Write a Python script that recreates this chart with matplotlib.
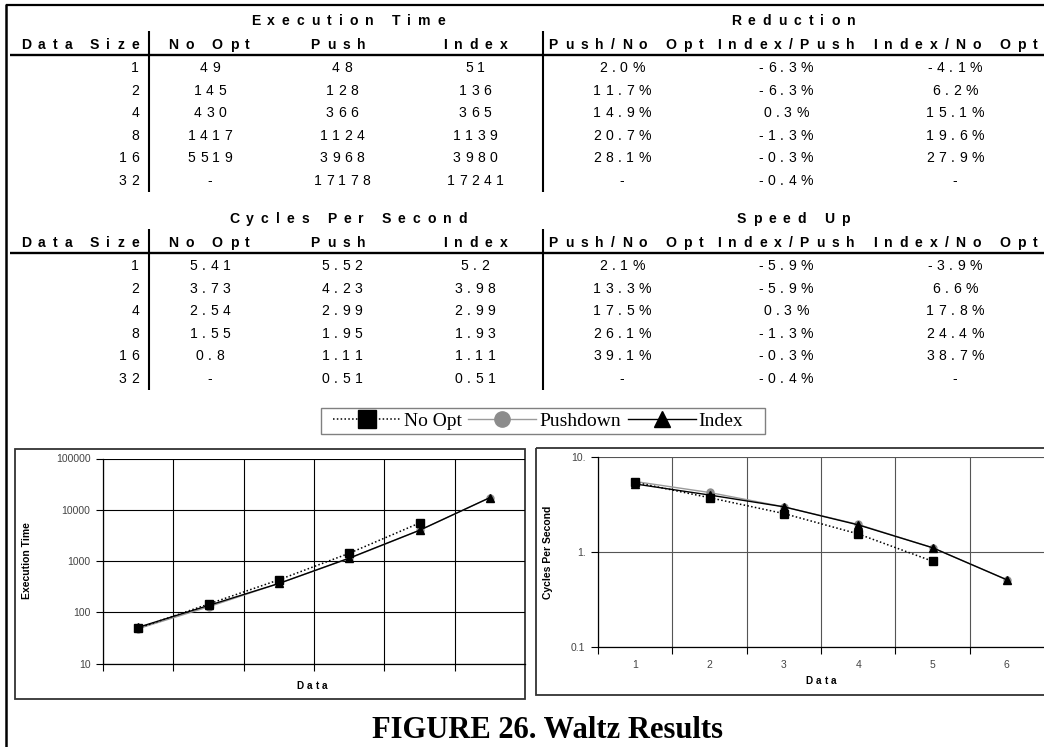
import numpy as np
import matplotlib

matplotlib.use("Agg")

import matplotlib.pyplot as plt
from matplotlib.font_manager import FontProperties, findfont
from matplotlib.ft2font import FT2Font
from matplotlib.patches import Rectangle
from matplotlib.ticker import NullLocator

W, H, DPI = 1044, 747, 100

# ---- data ----
data_sizes = ["1", "2", "4", "8", "16", "32"]
chart_x = [1, 2, 3, 4, 5, 6]

exec_no_opt = [49, 145, 430, 1417, 5519, np.nan]
exec_push = [48, 128, 366, 1124, 3968, 17178]
exec_index = [51, 136, 365, 1139, 3980, 17241]

red_push_noopt = ["2.0%", "11.7%", "14.9%", "20.7%", "28.1%", "-"]
red_index_push = ["-6.3%", "-6.3%", "0.3%", "-1.3%", "-0.3%", "-0.4%"]
red_index_noopt = ["-4.1%", "6.2%", "15.1%", "19.6%", "27.9%", "-"]

cps_no_opt = [5.41, 3.73, 2.54, 1.55, 0.8, np.nan]
cps_push = [5.52, 4.23, 2.99, 1.95, 1.11, 0.51]
cps_index = [5.2, 3.98, 2.99, 1.93, 1.11, 0.51]

spd_push_noopt = ["2.1%", "13.3%", "17.5%", "26.1%", "39.1%", "-"]
spd_index_push = ["-5.9%", "-5.9%", "0.3%", "-1.3%", "-0.3%", "-0.4%"]
spd_index_noopt = ["-3.9%", "6.6%", "17.8%", "24.4%", "38.7%", "-"]

exec_ticks = [10, 100, 1000, 10000, 100000]
exec_tick_labels = ["10", "100", "1000", "10000", "100000"]
cps_ticks = [0.1, 1, 10]
cps_tick_labels = ["0.1", "1.", "10."]
cps_x_labels = ["1", "2", "3", "4", "5", "6"]

SANS = "Liberation Sans"
SERIF = "Liberation Serif"

_font_cache = {}


def glyph_advances(s, size_px, bold):
    if bold not in _font_cache:
        fp = FontProperties(family=SANS, weight="bold" if bold else "normal")
        _font_cache[bold] = FT2Font(findfont(fp))
    font = _font_cache[bold]
    font.set_size(size_px, 72)
    return [font.load_char(ord(c)).linearHoriAdvance / 65536 for c in s]


def spaced_text(ax, x, y, s, size_px=14, bold=False, track=7.0, ha="center", color="black"):
    """Letter-spaced text; y is the vertical centre of capitals (pixel coords)."""
    adv = glyph_advances(s, size_px, bold)
    total = sum(adv) + track * (len(s) - 1)
    x0 = {"left": x, "center": x - total / 2, "right": x - total}[ha]
    base = y + 0.36 * size_px
    for c, a in zip(s, adv):
        if c != " ":
            ax.text(x0, base, c, fontsize=size_px * 72 / DPI, family=SANS,
                    fontweight="bold" if bold else "normal",
                    ha="left", va="baseline", color=color)
        x0 += a + track


def fmt(v):
    return "-" if np.isnan(v) else f"{v:g}"


def draw_table(ax, top, title_left, title_right, no_opt, push, index, pct_cols):
    # top: y of the group title row
    header_y = top + 24
    rule_y = top + 35
    row_y = [top + 47 + 22.5 * i for i in range(len(data_sizes))]

    spaced_text(ax, 348, top, title_left, bold=True)
    spaced_text(ax, 793, top, title_right, bold=True)

    spaced_text(ax, 139, header_y, "Data Size", bold=True, ha="right")
    for cx, lab in [(209, "No Opt"), (338, "Push"), (475, "Index"),
                    (626, "Push/No Opt"), (786, "Index/Push"), (955, "Index/No Opt")]:
        spaced_text(ax, cx, header_y, lab, bold=True)

    ax.plot([10, W], [rule_y, rule_y], color="black", lw=1.7, solid_capstyle="butt")
    for vx in (149, 543):
        ax.plot([vx, vx], [top + 11, row_y[-1] + 12], color="black", lw=1.5, solid_capstyle="butt")

    for i, y in enumerate(row_y):
        spaced_text(ax, 139, y, data_sizes[i], ha="right", track=4.5)
        spaced_text(ax, 210, y, fmt(no_opt[i]), track=4.5)
        spaced_text(ax, 342, y, fmt(push[i]), track=4.5)
        spaced_text(ax, 475, y, fmt(index[i]), track=4.5)
        for cx, col in zip((622, 786, 955), pct_cols):
            spaced_text(ax, cx, y, col[i], track=4.5)


fig = plt.figure(figsize=(W / DPI, H / DPI), dpi=DPI, facecolor="white")

page = fig.add_axes([0, 0, 1, 1])
page.set_xlim(0, W)
page.set_ylim(H, 0)
page.axis("off")

# page frame
page.plot([6, W], [5, 5], color="black", lw=1.6, solid_capstyle="butt")
page.plot([6, 6], [4, H], color="black", lw=1.8, solid_capstyle="butt")

draw_table(page, 20, "Execution Time", "Reduction", exec_no_opt, exec_push, exec_index,
           [red_push_noopt, red_index_push, red_index_noopt])
draw_table(page, 218, "Cycles Per Second", "Speed Up", cps_no_opt, cps_push, cps_index,
           [spd_push_noopt, spd_index_push, spd_index_noopt])

# chart frames and legend frame
page.add_patch(Rectangle((15, 449), 510, 250, fill=False, edgecolor="#333333", lw=1.3))
page.add_patch(Rectangle((536, 448), 520, 247, fill=False, edgecolor="#333333", lw=1.3))
page.add_patch(Rectangle((321, 408), 444, 26, fill=False, edgecolor="#808080", lw=1.0))


def px_rect(x0, x1, y_top, y_bot):
    return [x0 / W, 1 - y_bot / H, (x1 - x0) / W, (y_bot - y_top) / H]


def style_chart(ax, grid_color):
    ax.set_facecolor("none")
    ax.set_xlim(0.5, 6.5)
    ax.set_yscale("log")
    ax.yaxis.set_minor_locator(NullLocator())
    ax.set_xticks([0.5, 1.5, 2.5, 3.5, 4.5, 5.5], minor=True)
    ax.grid(True, which="major", axis="y", color=grid_color, lw=0.8)
    ax.grid(True, which="minor", axis="x", color=grid_color, lw=0.8)
    for side in ("top", "right"):
        ax.spines[side].set_visible(False)
    for side in ("left", "bottom"):
        ax.spines[side].set_linewidth(0.9)
    ax.tick_params(axis="both", which="both", direction="out", length=5, width=0.8,
                   labelsize=7.5, labelcolor="#444444", colors="black")
    ax.tick_params(axis="x", which="major", length=0, pad=9)
    ax.tick_params(axis="y", pad=4)


def plot_series(ax, no_opt, push, index):
    lp, = ax.plot(chart_x, push, color="#9a9a9a", lw=1.0, marker="o", ms=5,
                  mfc="#8c8c8c", mec="#8c8c8c")
    li, = ax.plot(chart_x, index, color="black", lw=1.0, marker="^", ms=5.5)
    ln, = ax.plot(chart_x, no_opt, color="black", lw=1.1, ls=(0, (1, 1.5)),
                  marker="s", ms=6)
    return ln, lp, li


# left chart: execution time
ax1 = fig.add_axes(px_rect(103, 525, 458.5, 663.6))
style_chart(ax1, "black")
handles = plot_series(ax1, exec_no_opt, exec_push, exec_index)
ax1.set_ylim(10, 100000)
ax1.set_yticks(exec_ticks, exec_tick_labels, family=SANS)
ax1.set_xticks([])
ax1.set_ylabel("Execution Time", family=SANS, fontweight="bold", fontsize=7.5)
ax1.yaxis.set_label_coords(-0.168, 0.5)
spaced_text(page, 312, 685, "Data", size_px=10, bold=True, track=3)

# right chart: cycles per second
ax2 = fig.add_axes(px_rect(598, 1044, 457, 647))
style_chart(ax2, "#555555")
plot_series(ax2, cps_no_opt, cps_push, cps_index)
ax2.set_ylim(0.1, 10)
ax2.set_yticks(cps_ticks, cps_tick_labels, family=SANS)
ax2.set_xticks(chart_x, cps_x_labels, family=SANS)
ax2.set_ylabel("Cycles Per Second", family=SANS, fontweight="bold", fontsize=7.5)
ax2.yaxis.set_label_coords(-0.101, 0.5)
spaced_text(page, 821, 680, "Data", size_px=10, bold=True, track=3)

fig.legend(handles, ["No Opt", "Pushdown", "Index"], loc="center",
           bbox_to_anchor=(538 / W, 1 - 421 / H), ncol=3,
           prop=FontProperties(family=SERIF, size=14),
           frameon=False, handlelength=3.5, handletextpad=0.15,
           columnspacing=0.35, borderpad=0.1, markerscale=2.2)

page.text(547, 730, "FIGURE 26. Waltz Results", family=SERIF, fontweight="bold",
          fontsize=22, ha="center", va="center")

fig.savefig("out.png", dpi=DPI, facecolor="white")
